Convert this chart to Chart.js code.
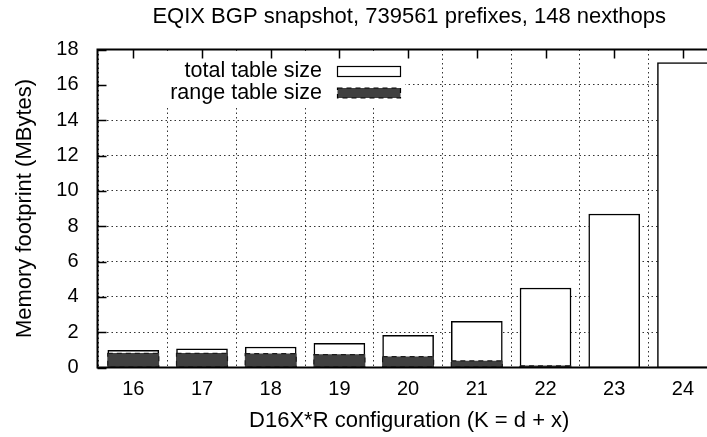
<!DOCTYPE html>
<html>
<head>
<meta charset="utf-8">
<title>EQIX BGP snapshot memory footprint</title>
<script src="https://cdn.jsdelivr.net/npm/chart.js@4"></script>
<style>
  html, body { margin: 0; padding: 0; background: #fff; overflow: hidden; }
  /* the plot runs a little past the right edge of the window */
  #wrap { width: 707px; height: 437px; overflow: hidden; }
  #memChart { display: block; }
</style>
</head>
<body>
<div id="wrap"><canvas id="memChart" width="721" height="437"></canvas></div>
<script>
// K = d + x, one bar pair per configuration
const configs = ['16', '17', '18', '19', '20', '21', '22', '23', '24'];
// MBytes
const totalSize = [0.97, 1.05, 1.16, 1.37, 1.82, 2.61, 4.50, 8.69, 17.26];
const rangeSize = [0.80, 0.80, 0.78, 0.73, 0.61, 0.37, 0.10, 0.02, 0.01];
const yTicks = [0, 2, 4, 6, 8, 10, 12, 14, 16, 18];

const FAMILY = "'Liberation Sans', Arial, Helvetica, sans-serif";
const LABEL_FONT = { family: FAMILY, size: 22, weight: 'normal' };
const TICK_FONT = { family: FAMILY, size: 20, weight: 'normal' };
const KEY_SIZE = 21.5;
const RANGE_DASH = [5, 4];
Chart.defaults.color = '#000';
Chart.defaults.font.family = FAMILY;

// gnuplot-ish frame: inward tics, opaque key box, border, key on top
const gnuplotFrame = {
    id: 'gnuplotFrame',
    beforeDatasetsDraw(chart) {
        const { ctx, chartArea: a, scales: { x, y } } = chart;
        ctx.save();
        // opaque key background hides the grid under it
        ctx.fillStyle = '#fff';
        ctx.fillRect(a.left + 1.5, a.top + 1.5, 306, 54);

        ctx.strokeStyle = '#000';
        ctx.lineWidth = 1.5;
        ctx.beginPath();
        x.ticks.forEach(t => {
            const px = Math.round(x.getPixelForValue(t.value)) + 0.5;
            ctx.moveTo(px, a.top);
            ctx.lineTo(px, a.top + 9);
            ctx.moveTo(px, a.bottom);
            ctx.lineTo(px, a.bottom - 9);
        });
        y.ticks.forEach(t => {
            const py = Math.round(y.getPixelForValue(t.value)) + 0.5;
            ctx.moveTo(a.left, py);
            ctx.lineTo(a.left + 9, py);
        });
        ctx.stroke();
        ctx.restore();
    },
    afterDatasetsDraw(chart) {
        const { ctx, chartArea: a } = chart;
        ctx.save();

        // dashed outline on the range boxes
        ctx.strokeStyle = '#1a1a1a';
        ctx.lineWidth = 1.2;
        ctx.setLineDash(RANGE_DASH);
        chart.getDatasetMeta(0).data.forEach(bar => {
            const { x, y, base, width } = bar.getProps(['x', 'y', 'base', 'width'], true);
            if (base - y < 1) return;
            ctx.strokeRect(x - width / 2, y, width, base - y);
        });
        ctx.setLineDash([]);

        ctx.strokeStyle = '#000';
        ctx.lineWidth = 2;
        ctx.beginPath();
        ctx.moveTo(a.right, a.top);
        ctx.lineTo(a.left, a.top);
        ctx.lineTo(a.left, a.bottom);
        ctx.lineTo(a.right, a.bottom);
        ctx.stroke();

        // key: text right-aligned, sample box to its right
        const keyOrder = [1, 0];
        ctx.font = KEY_SIZE + 'px ' + FAMILY;
        ctx.textAlign = 'right';
        ctx.textBaseline = 'middle';
        keyOrder.forEach((di, row) => {
            const ds = chart.data.datasets[di];
            const cy = 71.5 + row * 21.5;
            ctx.fillStyle = '#000';
            ctx.fillText(ds.label, 322, cy);
            ctx.fillStyle = ds.backgroundColor;
            ctx.fillRect(337.5, cy - 5, 63, 10);
            ctx.strokeStyle = '#000';
            ctx.lineWidth = 1.2;
            ctx.setLineDash(di === 0 ? RANGE_DASH : []);
            ctx.strokeRect(337.5, cy - 5, 63, 10);
            ctx.setLineDash([]);
        });
        ctx.restore();
    }
};

const ctx = document.getElementById('memChart');
new Chart(ctx, {
    type: 'bar',
    data: {
        datasets: [
            {
                label: 'range table size',
                data: rangeSize.map((v, i) => ({ x: i, y: v })),
                backgroundColor: '#404040',
                borderWidth: 0,
                barThickness: 51,
                grouped: false
            },
            {
                label: 'total table size',
                data: totalSize.map((v, i) => ({ x: i, y: v })),
                backgroundColor: '#ffffff',
                borderColor: '#000',
                borderWidth: 1.5,
                barThickness: 51,
                grouped: false
            }
        ]
    },
    options: {
        responsive: false,
        animation: false,
        layout: { padding: 0 },
        plugins: {
            legend: { display: false },
            tooltip: { enabled: false },
            title: {
                display: true,
                text: 'EQIX BGP snapshot, 739561 prefixes, 148 nexthops',
                fullSize: false,
                font: LABEL_FONT,
                padding: { top: 4, bottom: 19.1 }
            }
        },
        scales: {
            x: {
                type: 'linear',
                offset: false,
                min: -0.521,
                max: 8.554,
                afterBuildTicks: s => { s.ticks = configs.map((c, i) => ({ value: i })); },
                afterFit: s => { s.height = 69.5; },
                ticks: {
                    callback: v => configs[v],
                    font: TICK_FONT,
                    padding: 10,
                    maxRotation: 0,
                    autoSkip: false
                },
                grid: { color: 'rgba(0,0,0,0.8)', lineWidth: 1, drawTicks: false },
                border: { display: false, dash: [1.5, 3] },
                title: {
                    display: true,
                    text: 'D16X*R configuration (K = d + x)',
                    font: LABEL_FONT,
                    padding: { top: 0, bottom: 3 }
                }
            },
            y: {
                min: 0,
                max: 18,
                afterBuildTicks: s => { s.ticks = yTicks.map(v => ({ value: v })); },
                afterFit: s => { s.width = 97.5; },
                ticks: { font: TICK_FONT, padding: 19 },
                grid: { color: 'rgba(0,0,0,0.8)', lineWidth: 1, drawTicks: false },
                border: { display: false, dash: [1.5, 3] },
                title: {
                    display: true,
                    text: 'Memory footprint (MBytes)',
                    font: LABEL_FONT,
                    padding: { top: 12, bottom: 0 }
                }
            }
        }
    },
    plugins: [gnuplotFrame]
});
</script>
</body>
</html>
